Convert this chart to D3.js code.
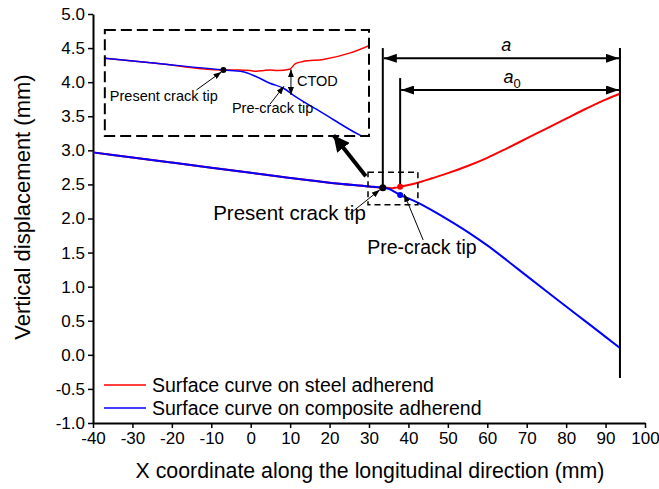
<!DOCTYPE html>
<html>
<head>
<meta charset="utf-8">
<script src="https://cdn.jsdelivr.net/npm/d3@7"></script>
<style>
  body { margin: 0; background: #fff; }
  text { font-family: Arial, "Liberation Sans", sans-serif; fill: #000; }
</style>
</head>
<body>
<div id="chart"></div>
<script>
// part common to both surfaces (bonded, ahead of the crack tip)
const sharedX = [-40, -30, -20, -10, 0, 10, 20, 30, 33.5];
const sharedY = [2.97, 2.895, 2.82, 2.745, 2.67, 2.595, 2.525, 2.47, 2.45];

// surface curve on steel adherend (after crack tip)
const steelX = [34.5, 35.6, 36.5, 37.9, 40, 43, 46, 50, 55, 60, 65, 70, 75, 80, 85, 90, 93.65];
const steelY = [2.45, 2.445, 2.45, 2.465, 2.49, 2.535, 2.59, 2.665, 2.77, 2.89, 3.03, 3.175, 3.32, 3.465, 3.61, 3.745, 3.83];

// surface curve on composite adherend (after crack tip)
const compX = [34.7, 35.6, 36.5, 37.9, 40, 43, 46, 50, 55, 60, 65, 70, 75, 80, 85, 90, 93.65];
const compY = [2.44, 2.42, 2.39, 2.345, 2.295, 2.215, 2.12, 1.985, 1.805, 1.605, 1.385, 1.158, 0.933, 0.71, 0.487, 0.264, 0.10];

// zoomed detail shown in the inset
const insetRedX = [25.5, 28.9, 33.4, 34.5, 35.2, 35.6, 36.1, 36.5, 37, 37.8, 38.2, 38.7, 40.05, 41.8, 43.1];
const insetRedY = [2.506, 2.482, 2.45, 2.45, 2.447, 2.444, 2.448, 2.45, 2.447, 2.453, 2.48, 2.49, 2.50, 2.53, 2.566];
const insetBlueX = [25.5, 28.9, 33.4, 34.7, 35.6, 36.5, 37.4, 38.05, 40.05, 42.5, 43.1];
const insetBlueY = [2.506, 2.482, 2.45, 2.442, 2.418, 2.387, 2.363, 2.331, 2.244, 2.14, 2.12];

// crack positions
const presentTip = 33.5, preTip = 37.9, specimenEnd = 93.65;

const xTicks = d3.range(-40, 101, 10);
const yTicks = d3.range(-1, 5.01, 0.5);
const seriesNames = ["Surface curve on steel adherend", "Surface curve on composite adherend"];
const seriesColors = ["#ff0000", "#0000ff"];

const W = 659, H = 489;
const svg = d3.select('#chart').append('svg').attr('width', W).attr('height', H);

const x = d3.scaleLinear().domain([-40, 100]).range([93, 645]);
const y = d3.scaleLinear().domain([-1, 5]).range([423, 14]);

// markers
const defs = svg.append('defs');
function marker(id, len, half) {
  defs.append('marker')
    .attr('id', id).attr('viewBox', `0 ${-half} ${len} ${2 * half}`)
    .attr('refX', len).attr('refY', 0)
    .attr('markerWidth', len).attr('markerHeight', 2 * half)
    .attr('markerUnits', 'userSpaceOnUse')
    .attr('orient', 'auto-start-reverse')
    .append('path').attr('d', `M0,${-half}L${len},0L0,${half}Z`).attr('fill', '#000');
}
marker('dim', 13, 4.5);
marker('thin', 8, 3);
marker('big', 16, 8);

// axes
const xAxis = svg.append('g').attr('transform', `translate(0,${y(-1)})`)
  .call(d3.axisBottom(x).tickValues(xTicks).tickSizeInner(5).tickSizeOuter(0).tickPadding(4).tickFormat(d => String(d)));
const yAxis = svg.append('g').attr('transform', `translate(${x(-40)},0)`)
  .call(d3.axisLeft(y).tickValues(yTicks).tickSizeInner(5).tickSizeOuter(0).tickPadding(3).tickFormat(d => d.toFixed(1)));
[xAxis, yAxis].forEach(g => {
  g.select('.domain').attr('stroke-width', 2);
  g.selectAll('.tick line').attr('stroke-width', 1.5);
  g.selectAll('.tick text').style('font-size', '17px').attr('fill', '#000');
});

svg.append('text').attr('x', 370).attr('y', 478).attr('text-anchor', 'middle')
  .style('font-size', '21.3px').text('X coordinate along the longitudinal direction (mm)');
svg.append('text').attr('transform', `translate(30,207) rotate(-90)`).attr('text-anchor', 'middle')
  .style('font-size', '22px').text('Vertical displacement (mm)');

// curves
const line = d3.line().x(d => x(d[0])).y(d => y(d[1])).curve(d3.curveMonotoneX);
const shared = sharedX.map((v, i) => [v, sharedY[i]]);
const steel = shared.concat(steelX.map((v, i) => [v, steelY[i]]));
const comp = shared.concat(compX.map((v, i) => [v, compY[i]]));
svg.append('path').datum(steel).attr('d', line).attr('fill', 'none').attr('stroke', seriesColors[0]).attr('stroke-width', 2);
svg.append('path').datum(comp).attr('d', line).attr('fill', 'none').attr('stroke', seriesColors[1]).attr('stroke-width', 2);

// dimension lines a and a0
const vlines = [[presentTip, 2.47, 4.5], [preTip, 2.5, 4.06], [specimenEnd, -0.34, 4.5]];
vlines.forEach(v => svg.append('line').attr('x1', x(v[0])).attr('x2', x(v[0]))
  .attr('y1', y(v[1])).attr('y2', y(v[2])).attr('stroke', '#000').attr('stroke-width', 2));
const dims = [[presentTip, 4.35, 'a', ''], [preTip, 3.885, 'a', '0']];
dims.forEach(d => {
  svg.append('line').attr('x1', x(d[0]) + 1).attr('x2', x(specimenEnd) - 1)
    .attr('y1', y(d[1])).attr('y2', y(d[1])).attr('stroke', '#000').attr('stroke-width', 2)
    .attr('marker-start', 'url(#dim)').attr('marker-end', 'url(#dim)');
  const t = svg.append('text').attr('x', (x(d[0]) + x(specimenEnd)) / 2 + (d[3] ? 2 : 5))
    .attr('y', y(d[1]) - 7).attr('text-anchor', 'middle').style('font-size', '18px');
  t.append('tspan').style('font-style', 'italic').text(d[2]);
  if (d[3]) t.append('tspan').attr('dy', 5).style('font-size', '13px').text(d[3]);
});

// crack tip markers
svg.append('circle').attr('cx', x(preTip)).attr('cy', y(2.465)).attr('r', 3).attr('fill', seriesColors[0]);
svg.append('circle').attr('cx', x(preTip)).attr('cy', y(2.345)).attr('r', 3).attr('fill', seriesColors[1]);
svg.append('circle').attr('cx', x(presentTip)).attr('cy', y(2.45)).attr('r', 3.5).attr('fill', '#000');

// small zoom window
svg.append('rect').attr('x', x(29.75)).attr('y', y(2.68))
  .attr('width', x(42.4) - x(29.75)).attr('height', y(2.2) - y(2.68))
  .attr('fill', 'none').attr('stroke', '#000').attr('stroke-width', 1.5).attr('stroke-dasharray', '6,4');

// main annotations
svg.append('line').attr('x1', x(presentTip) - 33).attr('y1', y(2.45) + 26)
  .attr('x2', x(presentTip) - 3).attr('y2', y(2.45) + 2)
  .attr('stroke', '#000').attr('stroke-width', 1).attr('marker-end', 'url(#thin)');
svg.append('text').attr('x', x(presentTip) - 17).attr('y', y(2.45) + 32).attr('text-anchor', 'end')
  .style('font-size', '20.5px').text('Present crack tip');
svg.append('line').attr('x1', x(preTip) + 23).attr('y1', y(2.345) + 45)
  .attr('x2', x(preTip) + 4).attr('y2', y(2.345) - 1)
  .attr('stroke', '#000').attr('stroke-width', 1).attr('marker-end', 'url(#thin)');
svg.append('text').attr('x', x(preTip) - 33).attr('y', y(2.345) + 59)
  .style('font-size', '19.5px').text('Pre-crack tip');

// big arrow pointing to the inset
svg.append('line').attr('x1', x(29.2)).attr('y1', y(2.62)).attr('x2', x(21)).attr('y2', y(3.22))
  .attr('stroke', '#000').attr('stroke-width', 4).attr('marker-end', 'url(#big)');

// inset
const box = { x0: x(-37), x1: x(30), y0: y(4.765), y1: y(3.21) };
const ix = d3.scaleLinear().domain([25.5, 43.1]).range([box.x0, box.x1]);
const iy = d3.scaleLinear().domain([2.136, 2.64]).range([box.y1, box.y0]);
defs.append('clipPath').attr('id', 'insetClip').append('rect')
  .attr('x', box.x0).attr('y', box.y0).attr('width', box.x1 - box.x0).attr('height', box.y1 - box.y0);
const inset = svg.append('g');
const iline = d3.line().x(d => ix(d[0])).y(d => iy(d[1])).curve(d3.curveMonotoneX);
inset.append('path').datum(insetRedX.map((v, i) => [v, insetRedY[i]])).attr('d', iline)
  .attr('clip-path', 'url(#insetClip)').attr('fill', 'none').attr('stroke', seriesColors[0]).attr('stroke-width', 1.5);
inset.append('path').datum(insetBlueX.map((v, i) => [v, insetBlueY[i]])).attr('d', iline)
  .attr('clip-path', 'url(#insetClip)').attr('fill', 'none').attr('stroke', seriesColors[1]).attr('stroke-width', 1.5);
inset.append('rect').attr('x', box.x0).attr('y', box.y0).attr('width', box.x1 - box.x0).attr('height', box.y1 - box.y0)
  .attr('fill', 'none').attr('stroke', '#000').attr('stroke-width', 2).attr('stroke-dasharray', '11,5');
inset.append('circle').attr('cx', ix(33.4)).attr('cy', iy(2.45)).attr('r', 3).attr('fill', '#000');
inset.append('line').attr('x1', ix(33.4) - 27).attr('y1', iy(2.45) + 20).attr('x2', ix(33.4) - 2).attr('y2', iy(2.45) + 2)
  .attr('stroke', '#000').attr('stroke-width', 1).attr('marker-end', 'url(#thin)');
inset.append('text').attr('x', box.x0 + 5).attr('y', iy(2.45) + 31).style('font-size', '14.5px').text('Present crack tip');
// CTOD
inset.append('line').attr('x1', ix(37.9)).attr('x2', ix(37.9)).attr('y1', iy(2.453)).attr('y2', iy(2.331))
  .attr('stroke', '#000').attr('stroke-width', 1).attr('marker-start', 'url(#thin)').attr('marker-end', 'url(#thin)');
inset.append('text').attr('x', ix(37.9) + 6).attr('y', iy(2.453) + 17).style('font-size', '14.5px').text('CTOD');
inset.append('line').attr('x1', ix(36.5)).attr('y1', iy(2.363) + 16).attr('x2', ix(37.3) + 2).attr('y2', iy(2.363) - 2)
  .attr('stroke', '#000').attr('stroke-width', 1).attr('marker-end', 'url(#thin)');
inset.append('text').attr('x', ix(36.5) - 38).attr('y', iy(2.363) + 25).style('font-size', '14.5px').text('Pre-crack tip');

// legend
const legend = svg.append('g');
seriesNames.forEach((n, i) => {
  const ly = 385 + i * 23;
  legend.append('line').attr('x1', 104).attr('x2', 146).attr('y1', ly).attr('y2', ly)
    .attr('stroke', seriesColors[i]).attr('stroke-width', 1.5);
  legend.append('text').attr('x', 152).attr('y', ly + 7).style('font-size', '19.5px').text(n);
});
</script>
</body>
</html>
